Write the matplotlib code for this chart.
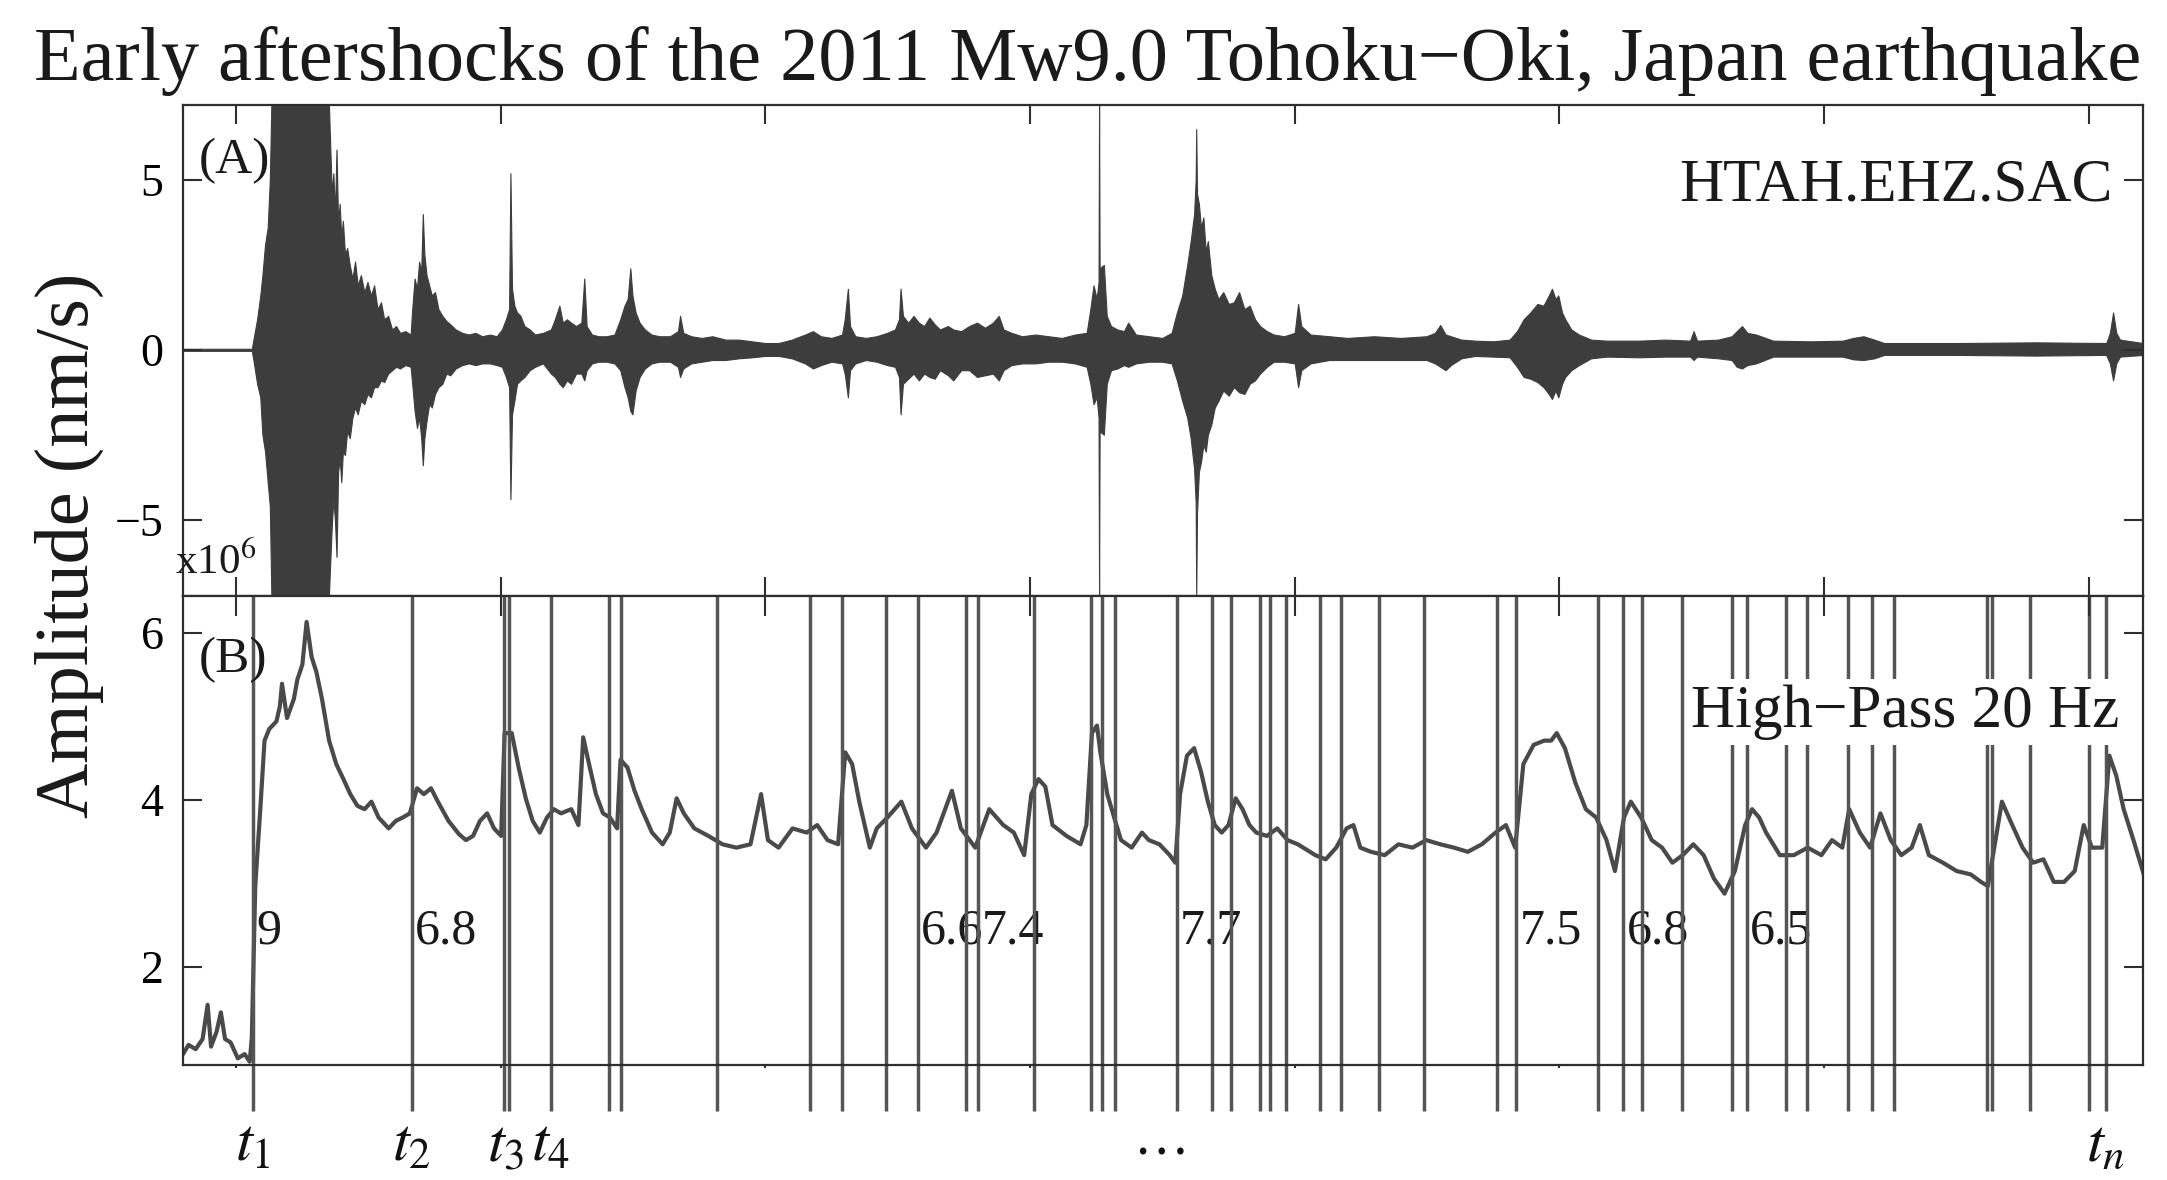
import matplotlib
matplotlib.use("Agg")
import matplotlib.pyplot as plt
from matplotlib.transforms import blended_transform_factory

plt.rcParams['font.family'] = ['Liberation Serif', 'DejaVu Serif']
plt.rcParams['mathtext.fontset'] = 'stix'

# ---------------------------------------------------------------
# Panel A: raw vertical-component trace, upper / lower envelope (x10^6 nm/s)
# ---------------------------------------------------------------
wave_t = [-0.200, 0.060, 0.066, 0.080, 0.092, 0.100, 0.110, 0.120, 0.128, 0.134,
          0.351, 0.355, 0.362, 0.368, 0.374, 0.380, 0.386, 0.392, 0.398, 0.404,
          0.412, 0.420, 0.430, 0.440, 0.450, 0.460, 0.472, 0.485, 0.497, 0.510,
          0.522, 0.535, 0.548, 0.560, 0.575, 0.590, 0.605, 0.620, 0.640, 0.660,
          0.666, 0.675, 0.684, 0.692, 0.700, 0.706, 0.712, 0.720, 0.730, 0.740,
          0.752, 0.765, 0.780, 0.795, 0.810, 0.830, 0.855, 0.880, 0.905, 0.930,
          0.960, 0.985, 1.005, 1.020, 1.032, 1.037, 1.043, 1.052, 1.062, 1.075,
          1.090, 1.110, 1.130, 1.160, 1.190, 1.205, 1.222, 1.235, 1.250, 1.266,
          1.285, 1.305, 1.316, 1.325, 1.345, 1.370, 1.400, 1.430, 1.452, 1.468,
          1.480, 1.490, 1.498, 1.510, 1.525, 1.545, 1.570, 1.600, 1.640, 1.670,
          1.678, 1.690, 1.720, 1.760, 1.800, 1.850, 1.900, 1.950, 2.000, 2.050,
          2.100, 2.150, 2.180, 2.210, 2.250, 2.290, 2.300, 2.312, 2.320, 2.340,
          2.380, 2.420, 2.460, 2.490, 2.505, 2.511, 2.520, 2.540, 2.560, 2.580,
          2.600, 2.620, 2.640, 2.660, 2.690, 2.710, 2.740, 2.770, 2.800, 2.830,
          2.860, 2.882, 2.900, 2.930, 2.970, 3.020, 3.070, 3.120, 3.170, 3.214,
          3.228, 3.240, 3.252, 3.259, 3.261, 3.263, 3.279, 3.290, 3.306, 3.330,
          3.355, 3.371, 3.400, 3.450, 3.500, 3.535, 3.555, 3.575, 3.594, 3.607,
          3.620, 3.626, 3.628, 3.631, 3.638, 3.646, 3.655, 3.664, 3.672, 3.685,
          3.698, 3.712, 3.730, 3.751, 3.770, 3.790, 3.810, 3.830, 3.850, 3.869,
          3.895, 3.921, 3.960, 4.000, 4.013, 4.025, 4.060, 4.131, 4.200, 4.300,
          4.400, 4.498, 4.530, 4.550, 4.570, 4.590, 4.630, 4.681, 4.750, 4.812,
          4.840, 4.865, 4.890, 4.917, 4.940, 4.960, 4.972, 4.985, 4.996, 5.010,
          5.022, 5.045, 5.074, 5.120, 5.179, 5.300, 5.400, 5.494, 5.507, 5.520,
          5.600, 5.651, 5.670, 5.690, 5.710, 5.743, 5.808, 5.950, 6.070, 6.110,
          6.149, 6.190, 6.227, 6.500, 6.800, 7.066, 7.080, 7.092, 7.104, 7.118,
          7.205]
wave_hi = [0.03, 0.03, 0.3, 0.9, 1.6, 2.2, 3.1, 3.6, 5.0, 7.3,
           7.3, 6.3, 4.6, 5.2, 4.0, 5.9, 3.7, 4.3, 3.3, 3.8,
           2.8, 3.0, 2.5, 2.1, 2.6, 1.9, 2.2, 1.7, 2.0, 1.6,
           1.9, 1.2, 1.4, 0.9, 1.0, 0.6, 0.7, 0.5, 0.55, 0.45,
           1.2, 2.1, 1.8, 2.6, 2.3, 4.0, 2.8, 2.2, 1.9, 1.6,
           1.7, 1.2, 1.0, 0.85, 0.75, 0.6, 0.5, 0.45, 0.5, 0.4,
           0.45, 0.4, 0.6, 0.9, 1.2, 5.2, 1.8, 1.3, 1.1, 1.0,
           0.7, 0.6, 0.45, 0.5, 0.6, 0.9, 1.3, 0.8, 0.9, 0.8,
           0.7, 0.8, 2.1, 0.7, 0.45, 0.4, 0.4, 0.45, 0.9, 1.3,
           1.5, 2.4, 1.6, 1.1, 0.8, 0.6, 0.45, 0.4, 0.4, 0.55,
           1.0, 0.5, 0.4, 0.35, 0.4, 0.3, 0.3, 0.25, 0.2, 0.2,
           0.3, 0.45, 0.55, 0.4, 0.35, 0.45, 0.9, 1.8, 0.7, 0.4,
           0.35, 0.4, 0.5, 0.6, 0.9, 1.8, 1.0, 0.8, 1.0, 0.8,
           0.7, 0.95, 0.75, 0.6, 0.7, 0.6, 0.55, 0.7, 0.8, 0.65,
           0.8, 1.0, 0.6, 0.5, 0.4, 0.45, 0.4, 0.35, 0.45, 0.5,
           1.2, 1.9, 1.5, 2.0, 7.3, 2.4, 2.5, 1.0, 0.7, 0.6,
           0.55, 0.8, 0.45, 0.4, 0.35, 0.5, 1.1, 1.6, 2.5, 3.2,
           4.0, 5.0, 6.5, 4.6, 4.3, 3.6, 3.9, 2.9, 3.2, 2.2,
           1.8, 1.5, 1.7, 1.35, 1.4, 1.7, 1.2, 1.3, 0.9, 0.7,
           0.55, 0.45, 0.4, 0.5, 1.35, 0.7, 0.45, 0.4, 0.35, 0.4,
           0.35, 0.4, 0.5, 0.73, 0.45, 0.4, 0.3, 0.27, 0.25, 0.3,
           0.55, 0.9, 1.1, 1.35, 1.3, 1.6, 1.8, 1.5, 1.6, 1.1,
           0.9, 0.6, 0.45, 0.3, 0.27, 0.27, 0.3, 0.27, 0.55, 0.27,
           0.3, 0.4, 0.55, 0.7, 0.5, 0.45, 0.27, 0.25, 0.27, 0.35,
           0.4, 0.3, 0.2, 0.2, 0.22, 0.2, 0.5, 1.1, 0.5, 0.3,
           0.2]
wave_lo = [-0.03, -0.03, -0.3, -1.0, -1.4, -2.5, -3.0, -3.9, -4.6, -7.3,
           -7.3, -6.5, -5.2, -4.4, -5.0, -6.1, -3.6, -3.2, -3.9, -3.0,
           -3.1, -2.4, -2.6, -2.0, -1.7, -1.9, -1.5, -1.6, -1.3, -1.4,
           -1.1, -1.1, -0.9, -0.95, -0.7, -0.6, -0.5, -0.55, -0.45, -0.5,
           -1.0, -1.8, -2.3, -2.0, -2.6, -3.4, -2.6, -2.1, -1.6, -1.7,
           -1.3, -1.1, -1.0, -0.7, -0.75, -0.55, -0.45, -0.4, -0.45, -0.4,
           -0.4, -0.45, -0.5, -0.8, -1.1, -4.4, -1.9, -1.5, -1.0, -0.9,
           -0.8, -0.6, -0.5, -0.4, -0.7, -0.8, -1.0, -1.1, -0.9, -1.0,
           -0.7, -0.7, -0.9, -0.6, -0.4, -0.35, -0.35, -0.4, -0.6, -1.1,
           -1.4, -1.8, -1.9, -1.2, -0.8, -0.55, -0.4, -0.35, -0.35, -0.5,
           -0.8, -0.55, -0.4, -0.35, -0.3, -0.3, -0.25, -0.22, -0.18, -0.18,
           -0.25, -0.4, -0.55, -0.45, -0.35, -0.4, -0.7, -1.4, -0.6, -0.4,
           -0.3, -0.35, -0.45, -0.5, -0.8, -1.9, -1.0, -0.85, -0.7, -0.9,
           -0.7, -0.8, -0.85, -0.6, -0.75, -0.9, -0.6, -0.6, -0.8, -0.75,
           -0.7, -0.9, -0.6, -0.45, -0.4, -0.4, -0.35, -0.35, -0.4, -0.5,
           -1.0, -1.6, -1.4, -2.0, -7.3, -2.4, -2.5, -1.0, -0.6, -0.55,
           -0.45, -0.5, -0.4, -0.35, -0.35, -0.4, -0.9, -1.5, -2.0, -2.6,
           -3.5, -4.5, -7.3, -4.8, -3.6, -3.3, -2.8, -3.0, -2.5, -2.2,
           -1.7, -1.5, -1.2, -1.35, -1.1, -1.25, -1.3, -1.0, -0.9, -0.7,
           -0.5, -0.35, -0.35, -0.4, -1.1, -0.6, -0.4, -0.3, -0.3, -0.3,
           -0.3, -0.3, -0.4, -0.5, -0.6, -0.45, -0.25, -0.18, -0.2, -0.22,
           -0.5, -0.8, -0.85, -0.95, -1.1, -1.3, -1.45, -1.2, -1.4, -1.0,
           -0.8, -0.6, -0.45, -0.25, -0.2, -0.22, -0.2, -0.2, -0.3, -0.2,
           -0.25, -0.3, -0.5, -0.55, -0.45, -0.4, -0.2, -0.2, -0.2, -0.28,
           -0.3, -0.25, -0.15, -0.15, -0.17, -0.15, -0.4, -0.9, -0.4, -0.2,
           -0.15]

# ---------------------------------------------------------------
# Panel B: high-pass (20 Hz) amplitude
# ---------------------------------------------------------------
hp_t = [-0.200, -0.179, -0.152, -0.126, -0.107, -0.094, -0.073, -0.057, -0.041, -0.020,
        0.007, 0.033, 0.052, 0.060, 0.073, 0.092, 0.108, 0.126, 0.153, 0.166,
        0.174, 0.193, 0.219, 0.232, 0.251, 0.267, 0.286, 0.304, 0.325, 0.352,
        0.379, 0.406, 0.432, 0.459, 0.486, 0.512, 0.539, 0.577, 0.604, 0.630,
        0.657, 0.684, 0.710, 0.737, 0.763, 0.803, 0.843, 0.869, 0.896, 0.922,
        0.949, 0.975, 1.002, 1.015, 1.042, 1.068, 1.095, 1.121, 1.148, 1.175,
        1.201, 1.228, 1.267, 1.294, 1.312, 1.334, 1.360, 1.387, 1.413, 1.440,
        1.453, 1.479, 1.506, 1.533, 1.572, 1.612, 1.639, 1.665, 1.692, 1.732,
        1.785, 1.838, 1.891, 1.944, 1.984, 2.010, 2.050, 2.103, 2.156, 2.196,
        2.235, 2.275, 2.302, 2.328, 2.355, 2.395, 2.421, 2.461, 2.514, 2.554,
        2.607, 2.647, 2.705, 2.739, 2.793, 2.846, 2.899, 2.939, 2.978, 3.005,
        3.032, 3.058, 3.085, 3.138, 3.191, 3.213, 3.234, 3.253, 3.266, 3.292,
        3.318, 3.344, 3.384, 3.423, 3.449, 3.489, 3.528, 3.549, 3.567, 3.593,
        3.620, 3.646, 3.672, 3.698, 3.724, 3.750, 3.777, 3.803, 3.829, 3.855,
        3.895, 3.934, 3.973, 4.012, 4.078, 4.117, 4.157, 4.196, 4.222, 4.248,
        4.288, 4.340, 4.392, 4.445, 4.497, 4.550, 4.602, 4.654, 4.707, 4.759,
        4.798, 4.833, 4.864, 4.903, 4.943, 4.969, 4.990, 5.021, 5.060, 5.100,
        5.139, 5.178, 5.210, 5.244, 5.270, 5.309, 5.349, 5.388, 5.427, 5.466,
        5.506, 5.545, 5.584, 5.624, 5.663, 5.702, 5.728, 5.755, 5.781, 5.833,
        5.886, 5.938, 5.990, 6.030, 6.069, 6.095, 6.135, 6.174, 6.213, 6.252,
        6.292, 6.331, 6.362, 6.396, 6.449, 6.501, 6.554, 6.593, 6.619, 6.645,
        6.672, 6.711, 6.750, 6.790, 6.829, 6.868, 6.907, 6.947, 6.981, 7.012,
        7.051, 7.078, 7.104, 7.132, 7.169, 7.208]
hp_amp = [0.96, 1.07, 1.02, 1.14, 1.55, 1.05, 1.23, 1.46, 1.14, 1.10,
          0.91, 0.96, 0.87, 1.15, 2.97, 3.89, 4.71, 4.85, 4.94, 5.12,
          5.39, 4.98, 5.21, 5.44, 5.62, 6.13, 5.71, 5.53, 5.21, 4.71,
          4.43, 4.25, 4.07, 3.93, 3.89, 3.98, 3.79, 3.66, 3.75, 3.79,
          3.84, 4.14, 4.07, 4.14, 3.98, 3.75, 3.59, 3.52, 3.57, 3.75,
          3.84, 3.66, 3.57, 4.80, 4.80, 4.39, 4.02, 3.75, 3.61, 3.79,
          3.89, 3.84, 3.89, 3.70, 4.75, 4.43, 4.07, 3.84, 3.79, 3.66,
          4.48, 4.39, 4.11, 3.89, 3.61, 3.47, 3.61, 4.02, 3.84, 3.66,
          3.57, 3.47, 3.43, 3.47, 4.07, 3.52, 3.43, 3.66, 3.61, 3.70,
          3.52, 3.47, 4.57, 4.43, 3.98, 3.43, 3.66, 3.79, 3.98, 3.66,
          3.43, 3.61, 4.11, 3.66, 3.43, 3.89, 3.70, 3.61, 3.34, 4.07,
          4.25, 4.16, 3.70, 3.57, 3.47, 3.70, 4.80, 4.89, 4.57, 4.07,
          3.79, 3.52, 3.43, 3.61, 3.52, 3.47, 3.34, 3.25, 4.07, 4.53,
          4.62, 4.34, 3.98, 3.70, 3.61, 3.70, 4.02, 3.89, 3.70, 3.61,
          3.57, 3.66, 3.52, 3.47, 3.34, 3.29, 3.43, 3.66, 3.70, 3.43,
          3.38, 3.34, 3.47, 3.43, 3.52, 3.47, 3.43, 3.38, 3.47, 3.61,
          3.70, 3.43, 4.43, 4.66, 4.71, 4.71, 4.80, 4.62, 4.21, 3.89,
          3.79, 3.52, 3.15, 3.79, 3.98, 3.79, 3.52, 3.43, 3.25, 3.34,
          3.47, 3.34, 3.06, 2.88, 3.15, 3.70, 3.89, 3.79, 3.61, 3.34,
          3.34, 3.43, 3.34, 3.52, 3.43, 3.89, 3.61, 3.43, 3.84, 3.52,
          3.34, 3.43, 3.70, 3.34, 3.25, 3.15, 3.11, 3.02, 2.97, 3.47,
          3.98, 3.70, 3.43, 3.25, 3.29, 3.02, 3.02, 3.15, 3.70, 3.43,
          3.43, 4.53, 4.29, 3.89, 3.52, 3.11]

# onset times of the catalogued events
event_t = [0.063, 0.664, 1.012, 1.031, 1.189, 1.410, 1.453, 1.818, 2.168, 2.291,
           2.456, 2.575, 2.760, 2.804, 3.015, 3.230, 3.271, 3.321, 3.554, 3.686,
           3.759, 3.869, 3.906, 3.966, 4.095, 4.175, 4.318, 4.488, 4.766, 4.836,
           5.147, 5.241, 5.311, 5.462, 5.651, 5.707, 5.855, 5.934, 6.091, 6.180,
           6.264, 6.614, 6.636, 6.778, 7.002, 7.065]

# magnitudes of the larger events
mag_t = [0.063, 0.664, 2.575, 2.804, 3.554, 4.836, 5.241, 5.707]
mag_txt = ['9', '6.8', '6.6', '7.4', '7.7', '7.5', '6.8', '6.5']

# onset-time labels under panel B
tlab_t = [0.063, 0.664, 1.021, 1.189, 7.065]
tlab_txt = [r'$t_1$', r'$t_2$', r'$t_3$', r'$t_4$', r'$t_n$']
dots_t = 3.495

xticks = [0, 1, 2, 3, 4, 5, 6, 7]
a_yticks = [-5, 0, 5]
b_yticks = [2, 4, 6]

# ---------------------------------------------------------------
W, H = 2167, 1180
fig = plt.figure(figsize=(W / 100, H / 100), dpi=100)
ink = '#3d3d3d'
spine_c = '#2e2e2e'
txt_c = '#1a1a1a'

left = 183 / W
width = (2143 - 183) / W
axA = fig.add_axes([left, 1 - 596 / H, width, (596 - 105) / H])
axB = fig.add_axes([left, 1 - 1065 / H, width, (1065 - 596) / H])

for ax in (axA, axB):
    ax.set_xlim(-0.2, 7.205)
    for s in ax.spines.values():
        s.set_linewidth(1.6)
        s.set_color(spine_c)
        s.set_zorder(6)

# --- panel A
axA.fill_between(wave_t, wave_lo, wave_hi, color=ink, linewidth=0.8, edgecolor=ink)
axA.set_ylim(-7.25, 7.21)
axA.set_xticks(xticks)
axA.set_yticks(a_yticks)
axA.tick_params(axis='both', direction='in', length=14, width=1.5, color=spine_c,
                top=True, bottom=True, left=True, right=True,
                labelbottom=False, labelsize=33, pad=14)
axA.text(0.008, 0.886, '(A)', transform=axA.transAxes, fontsize=37,
         ha='left', va='center', color=txt_c)
axA.text(0.9847, 0.836, 'HTAH.EHZ.SAC', transform=axA.transAxes, fontsize=44,
         ha='right', va='center', color=txt_c)
axA.text(-0.004, 0.045, r'x10$^{6}$', transform=axA.transAxes, fontsize=31,
         ha='left', va='baseline', color=txt_c, zorder=7)

# --- panel B
axB.plot(hp_t, hp_amp, color='#4a4a4a', linewidth=3.0, zorder=3)
axB.set_ylim(0.83, 6.44)
axB.set_yticks(b_yticks)
axB.set_xticks(xticks)
axB.tick_params(axis='y', direction='in', length=14, width=1.5, color=spine_c,
                left=True, right=True, labelsize=33, pad=14)
axB.tick_params(axis='x', direction='out', length=2, width=1.5, color=spine_c,
                top=False, bottom=True, labelbottom=False)

trB = blended_transform_factory(axB.transData, axB.transAxes)
# inward ticks along the shared top edge
axB.vlines(xticks, 1.0 - 20 / 469, 1.0, transform=trB, colors=spine_c,
           linewidth=1.5, zorder=5)
axB.vlines(event_t, -0.098, 1.0, transform=trB, colors='#555555', linewidth=2.5,
           clip_on=False, zorder=4)

for xm, s in zip(mag_t, mag_txt):
    axB.annotate(s, (xm, 2.43), xytext=(2.5, 0), textcoords='offset points',
                 fontsize=36, ha='left', va='center', color=txt_c, zorder=2)

axB.text(0.008, 0.863, '(B)', transform=axB.transAxes, fontsize=37,
         ha='left', va='center', color=txt_c, zorder=7)
axB.text(0.9878, 0.753, 'High\u2212Pass 20 Hz', transform=axB.transAxes, fontsize=44,
         ha='right', va='center', color=txt_c, zorder=8,
         bbox=dict(facecolor='white', edgecolor='none', pad=4))

for xt, s in zip(tlab_t, tlab_txt):
    axB.text(xt, -0.205, s, transform=trB, fontsize=44, ha='center',
             va='baseline', color='#111111', clip_on=False)
axB.text(dots_t, -0.16, '\u2026', transform=trB, fontsize=40, ha='center',
         va='center', color='#111111', clip_on=False)

fig.text(0.502, 1 - 80 / H,
         'Early aftershocks of the 2011 Mw9.0 Tohoku\u2212Oki, Japan earthquake',
         fontsize=55, ha='center', va='baseline', color=txt_c)
fig.text(69 / W, 1 - 545 / H, 'Amplitude (nm/s)', fontsize=55, rotation=90,
         ha='center', va='center', color=txt_c)

fig.savefig('out.png', dpi=100)
